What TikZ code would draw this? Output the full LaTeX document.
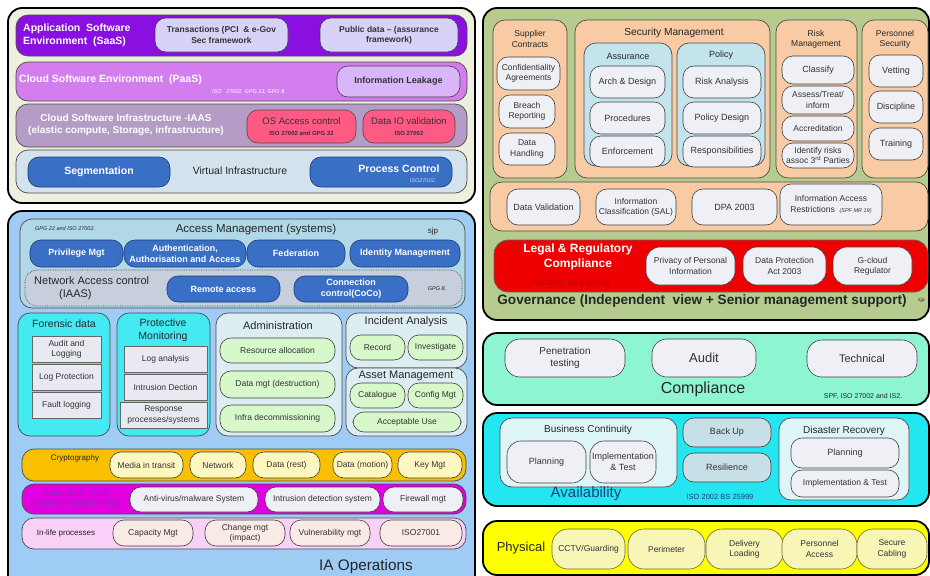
\documentclass[tikz,border=0pt]{standalone}
\usepackage{fontspec}
\setmainfont{Liberation Sans}

\definecolor{cream}{HTML}{EFEFE0}
\definecolor{saasBg}{HTML}{8A10E2}
\definecolor{saasPill}{HTML}{D9D2F7}
\definecolor{paasBg}{HTML}{D47DEE}
\definecolor{leakPill}{HTML}{D9B6F8}
\definecolor{iaasBg}{HTML}{B49CC6}
\definecolor{osPill}{HTML}{FF5A84}
\definecolor{virtBg}{HTML}{D3E2EC}
\definecolor{bluePill}{HTML}{3A6FC6}
\definecolor{opsBg}{HTML}{9FCCF5}
\definecolor{accBg}{HTML}{B0D8E6}
\definecolor{nacBg}{HTML}{C6CFDB}
\definecolor{cyanBox}{HTML}{44EAF2}
\definecolor{greyRect}{HTML}{E9E9F1}
\definecolor{paleBox}{HTML}{DDEEF3}
\definecolor{greenPill}{HTML}{D7F8CA}
\definecolor{cryptoBg}{HTML}{F8C000}
\definecolor{yellowPill}{HTML}{FFF7C2}
\definecolor{secBg}{HTML}{E000E0}
\definecolor{secTxt}{HTML}{8E2CB8}
\definecolor{greyPill}{HTML}{EEF0F5}
\definecolor{lifeBg}{HTML}{F8D0F8}
\definecolor{lifePill}{HTML}{F8EBE6}
\definecolor{govBg}{HTML}{B6CC8E}
\definecolor{peach}{HTML}{F9CBA4}
\definecolor{subBlue}{HTML}{C3E4EC}
\definecolor{legalBg}{HTML}{EE0000}
\definecolor{darkRed}{HTML}{A80000}
\definecolor{compBg}{HTML}{8EF5D2}
\definecolor{availBg}{HTML}{24E6F0}
\definecolor{availSub}{HTML}{DEF5F7}
\definecolor{backPill}{HTML}{C7DFE7}
\definecolor{navy}{HTML}{1E3C78}
\definecolor{physBg}{HTML}{FFFF00}
\definecolor{physPill}{HTML}{F8F6B6}
\definecolor{olive}{HTML}{6B6A30}

\newcommand{\fsz}[1]{\fontsize{#1}{\dimexpr#1pt*6/5\relax}\selectfont}
% box between two corners (x,y in pt, y downwards)
\def\getxy#1,#2\relax{\def\gx{#1}\def\gy{#2}}
\newcommand{\blk}[5][]{%
  \getxy#3\relax\let\xa\gx\let\ya\gy
  \getxy#4\relax
  \pgfmathsetmacro{\bw}{\gx-\xa}\pgfmathsetmacro{\bh}{\gy-\ya}%
  \node[#1, minimum width=\bw pt, minimum height=\bh pt] (#2)
    at ({(\xa+\gx)/2},{(\ya+\gy)/2}) {#5};}

\begin{document}
\begin{tikzpicture}[x=1pt,y=-1pt,
    fs/.style={font=\fsz{#1}},
    fb/.style={font=\fsz{#1}\bfseries},
    fi/.style={font=\fsz{#1}\itshape},
    panel/.style={draw=black, line width=1.8pt, rounded corners=14pt, inner sep=0pt, outer sep=0pt},
    band/.style={draw=black!70, line width=0.7pt, rounded corners=12pt, inner sep=0pt, outer sep=0pt},
    pill/.style={draw=black!75, line width=0.6pt, rounded corners=11pt, inner sep=0pt,
        outer sep=0pt, align=center, text=black!80, fs=9},
    rbox/.style={draw=black!60, line width=0.6pt, fill=greyRect, inner sep=0pt,
        outer sep=0pt, align=center, text=black!80, fs=8.5},
    bpill/.style={pill, fill=bluePill, draw=navy, text=white, fb=9},
    lbl/.style={inner sep=0pt, align=center, text=black!85}]

\clip (0,0) rectangle (930,576);
\fill[white] (0,0) rectangle (930,576);

% ---------- cloud layers ----------
\blk[panel, fill=cream]{cloudPanel}{8,8}{475,203}{}
\blk[band, fill=saasBg]{saasRow}{16,15}{467,56}{}
\node[lbl, fb=10.5, text=white, align=left, anchor=west] (saasLbl) at (23,35)
    {Application~~Software\\Environment~~(SaaS)};
\blk[pill, fill=saasPill, fb=8.5]{txPill}{155,18}{288,52}{Transactions (PCI~~\& e-Gov\\Sec framework}
\blk[pill, fill=saasPill, fb=8.5]{pubPill}{320,18}{458,52}{Public data -- (assurance\\framework)}

\blk[band, fill=paasBg]{paasRow}{16,62}{467,101}{}
\node[lbl, fb=10.5, text=white, anchor=west] (paasLbl) at (19,80) {Cloud Software Environment~~(PaaS)};
\node[lbl, fi=5.5, text=white, anchor=west] (paasIso) at (212,92) {ISO~~~27002, GPG 13, GPG 8};
\blk[pill, fill=leakPill, fb=9]{leakPill}{337,66}{460,97}{Information Leakage}

\blk[band, fill=iaasBg]{iaasRow}{16,104}{467,147}{}
\node[lbl, fb=10, text=white] (iaasLbl) at (126,125)
    {Cloud Software Infrastructure -IAAS\\(elastic compute, Storage, infrastructure)};
\blk[pill, fill=osPill, draw=black!70, fs=9.5]{osPill}{247,110}{356,143}{OS Access control\\{\fsz{6}\bfseries ISO 27002 and GPG 22}}
\blk[pill, fill=osPill, draw=black!70, fs=9.5]{dataIoPill}{363,110}{455,143}{Data IO validation\\{\fsz{6}\bfseries ISO 27002}}

\blk[band, fill=virtBg]{virtRow}{16,150}{467,193}{}
\blk[bpill, fb=10.5]{segPill}{28,157}{170,187}{Segmentation}
\node[lbl, fs=10.5] (virtLbl) at (240,171) {Virtual Infrastructure};
\blk[bpill]{procPill}{310,157}{452,187}{}
\node[lbl, fb=10.5, text=white] (procLbl) at (399,169) {Process Control};
\node[lbl, fi=5.5, text=white!80!blue] (procIso) at (423,181) {ISO27002.};

% ---------- IA operations ----------
\blk[panel, fill=opsBg]{opsPanel}{8,211}{475,592}{}
\blk[band, fill=accBg]{accBox}{20,219}{465,308}{}
\blk[band, fill=nacBg, densely dotted]{nacBox}{25,270}{462,306}{}
\node[lbl, fi=5.5, anchor=west] (accGpg) at (35,229) {GPG 22 and ISO 27002.};
\node[lbl, fs=11.5] (accLbl) at (256,230) {Access Management (systems)};
\node[lbl, fs=8] (accSjp) at (433,231) {sjp};
\blk[bpill]{privPill}{30,240}{123,267}{Privilege Mgt}
\blk[bpill]{authPill}{124,240}{246,267}{Authentication,\\Authorisation and Access}
\blk[bpill]{fedPill}{247,240}{345,267}{Federation}
\blk[bpill]{idPill}{350,240}{460,267}{Identity Management}
\node[lbl, fs=11, align=left, anchor=west] (nacLbl) at (34,288)
    {Network Access control\\\hspace{25pt}(IAAS)};
\blk[bpill]{remotePill}{167,276}{280,302}{Remote access}
\blk[bpill]{cocoPill}{294,276}{408,302}{Connection\\control(CoCo)}
\node[lbl, fi=5.5] (nacGpg) at (437,289) {GPG 8.};

\blk[band, fill=cyanBox]{forBox}{18,313}{110,436}{}
\node[lbl, fs=10.5] (forLbl) at (64,324) {Forensic data};
\blk[rbox]{auditRect}{32,336}{101,362}{Audit and\\Logging}
\blk[rbox]{logProtRect}{32,364}{101,390}{Log Protection}
\blk[rbox]{faultRect}{32,392}{101,418}{Fault logging}

\blk[band, fill=cyanBox]{pmBox}{117,313}{210,436}{}
\node[lbl, fs=10.5] (pmLbl) at (163,330) {Protective\\Monitoring};
\blk[rbox]{logAnRect}{124,346}{207,372}{Log analysis}
\blk[rbox]{intrRect}{124,374}{207,400}{Intrusion Dection}
\blk[rbox]{respRect}{120,402}{207,428}{Response\\processes/systems}

\blk[band, fill=paleBox]{adminBox}{216,313}{342,436}{}
\node[lbl, fs=11] (adminLbl) at (278,326) {Administration};
\blk[pill, fill=greenPill, fs=8.5]{resPill}{220,338}{335,363}{Resource allocation}
\blk[pill, fill=greenPill, fs=8.5]{dataMgtPill}{220,371}{335,398}{Data mgt (destruction)}
\blk[pill, fill=greenPill, fs=8.5]{infraPill}{220,405}{335,432}{Infra decommissioning}

\blk[band, fill=paleBox]{incBox}{346,313}{467,368}{}
\node[lbl, fs=11] (incLbl) at (406,322) {Incident Analysis};
\blk[pill, fill=greenPill, fs=8.5]{recPill}{350,335}{405,360}{Record}
\blk[pill, fill=greenPill, fs=8.5]{invPill}{408,335}{463,360}{Investigate}
\blk[band, fill=paleBox]{assetBox}{346,368}{467,436}{}
\node[lbl, fs=11] (assetLbl) at (406,376) {Asset Management};
\blk[pill, fill=greenPill, fs=8.5]{catPill}{350,383}{405,408}{Catalogue}
\blk[pill, fill=greenPill, fs=8.5]{cfgPill}{408,383}{463,408}{Config Mgt}
\blk[pill, fill=greenPill, fs=8.5]{aupPill}{353,412}{461,432}{Acceptable Use}

\blk[band, fill=cryptoBg]{cryptoRow}{22,449}{466,481}{}
\node[lbl, fs=8] (cryptoLbl) at (75,458) {Cryptography};
\blk[pill, fill=yellowPill, fs=8.5]{mediaPill}{110,452}{183,478}{Media in transit}
\blk[pill, fill=yellowPill, fs=8.5]{netPill}{190,452}{246,478}{Network}
\blk[pill, fill=yellowPill, fs=8.5]{restPill}{253,452}{320,478}{Data (rest)}
\blk[pill, fill=yellowPill, fs=8.5]{motionPill}{333,452}{392,478}{Data (motion)}
\blk[pill, fill=yellowPill, fs=8.5]{keyPill}{398,452}{462,478}{Key Mgt}

\blk[band, fill=secBg]{secRow}{22,484}{466,514}{}
\node[lbl, fs=8, text=secTxt] (secLbl) at (76,499) {SaaS. IaaS. PaaS\\Security subsystem mgt};
\blk[pill, fill=greyPill, fs=8.5]{avPill}{130,487}{258,512}{Anti-virus/malware System}
\blk[pill, fill=greyPill, fs=8.5]{idsPill}{265,487}{380,512}{Intrusion detection system}
\blk[pill, fill=greyPill, fs=8.5]{fwPill}{383,487}{463,512}{Firewall mgt}

\blk[band, fill=lifeBg]{lifeRow}{22,518}{466,549}{}
\node[lbl, fs=8] (lifeLbl) at (66,533) {In-life processes};
\blk[pill, fill=lifePill, fs=8.5]{capPill}{113,520}{193,546}{Capacity Mgt}
\blk[pill, fill=lifePill, fs=8.5]{chgPill}{205,520}{285,546}{Change mgt\\(impact)}
\blk[pill, fill=lifePill, fs=8.5]{vulPill}{290,520}{370,546}{Vulnerability mgt}
\blk[pill, fill=lifePill, fs=8.5]{isoPill}{380,520}{462,546}{ISO27001}
\node[lbl, fs=15.3] (opsLbl) at (366,567) {IA Operations};

% ---------- governance ----------
\blk[panel, fill=govBg]{govPanel}{483,8}{929,320}{}
\blk[band, fill=peach]{supBox}{493,20}{567,178}{}
\node[lbl, fs=8.5] (supLbl) at (530,39) {Supplier\\Contracts};
\blk[pill, fill=greyPill, fs=8.5]{confPill}{497,57}{560,90}{Confidentiality\\Agreements}
\blk[pill, fill=greyPill, fs=8.5]{breachPill}{499,95}{555,128}{Breach\\Reporting}
\blk[pill, fill=greyPill, fs=8.5]{handPill}{499,133}{555,165}{Data\\Handling}

\blk[band, fill=peach]{secMgtBox}{575,20}{770,178}{}
\node[lbl, fs=10.2] (secMgtLbl) at (674,33) {Security Management};
\blk[band, fill=subBlue]{assurBox}{584,43}{672,166}{}
\node[lbl, fs=9] (assurLbl) at (628,56) {Assurance};
\blk[pill, fill=greyPill]{archPill}{590,66}{665,98}{Arch \& Design}
\blk[pill, fill=greyPill]{procdPill}{590,102}{665,134}{Procedures}
\blk[pill, fill=greyPill]{enfPill}{590,136}{665,167}{Enforcement}
\blk[band, fill=subBlue]{policyBox}{677,43}{765,166}{}
\node[lbl, fs=9] (policyLbl) at (721,55) {Policy};
\blk[pill, fill=greyPill]{riskAnPill}{683,66}{761,98}{Risk Analysis}
\blk[pill, fill=greyPill]{polDesPill}{683,102}{761,134}{Policy Design}
\blk[pill, fill=greyPill]{respPill}{683,136}{761,167}{Responsibilities}

\blk[band, fill=peach]{riskBox}{776,20}{857,178}{}
\node[lbl, fs=8.5] (riskLbl) at (816,39) {Risk\\Management};
\blk[pill, fill=greyPill]{classPill}{782,56}{854,84}{Classify}
\blk[pill, fill=greyPill, fs=8.5]{assessPill}{782,86}{854,114}{Assess/Treat/\\inform}
\blk[pill, fill=greyPill, fs=8.5]{accredPill}{782,116}{854,141}{Accreditation}
\blk[pill, fill=greyPill, fs=8.5]{identPill}{782,143}{854,168}{Identify risks\\assoc 3\textsuperscript{rd} Parties}

\blk[band, fill=peach]{persBox}{862,20}{928,178}{}
\node[lbl, fs=8.5] (persLbl) at (895,39) {Personnel\\Security};
\blk[pill, fill=greyPill]{vetPill}{869,55}{923,87}{Vetting}
\blk[pill, fill=greyPill]{discPill}{869,91}{923,123}{Discipline}
\blk[pill, fill=greyPill]{trainPill}{869,128}{923,160}{Training}

\blk[band, fill=peach]{dataRow}{490,182}{928,231}{}
\blk[pill, fill=greyPill]{dvPill}{507,189}{580,225}{Data Validation}
\blk[pill, fill=greyPill, fs=8.5]{icPill}{596,189}{676,225}{Information\\Classification (SAL)}
\blk[pill, fill=greyPill]{dpaPill}{692,189}{777,225}{DPA 2003}
\blk[pill, fill=greyPill, fs=8.5]{iarPill}{780,184}{882,225}{Information Access\\Restrictions~~{\fsz{5.5}\itshape(SPF MR 19)}}

\blk[band, fill=legalBg, draw=black!60, rounded corners=14pt]{legalRow}{494,240}{928,292}{}
\node[lbl, fb=12, text=white] (legalLbl) at (578,257) {Legal \& Regulatory\\Compliance};
\node[lbl, fs=6.5, text=darkRed] (legalIso) at (571,283) {ISO 27002. IS2 \& GPG 13};
\blk[pill, fill=greyPill, fs=8.5, rounded corners=14pt]{privPerPill}{646,247}{735,285}{Privacy of Personal\\Information}
\blk[pill, fill=greyPill, fs=8.5, rounded corners=14pt]{dpActPill}{743,247}{826,285}{Data Protection\\Act 2003}
\blk[pill, fill=greyPill, fs=8.5, rounded corners=14pt]{gcloudPill}{833,247}{912,285}{G-cloud\\Regulator}
\node[lbl, fb=13.6] (govLbl) at (702,301) {Governance (Independent~~view + Senior management support)};
\node[lbl, fs=5, anchor=west] (govSjp) at (918,300) {sjp};

% ---------- compliance ----------
\blk[panel, fill=compBg]{compPanel}{483,333}{929,405}{}
\blk[pill, fill=greyPill, fs=10, rounded corners=15pt]{penPill}{505,339}{625,377}{Penetration\\testing}
\blk[pill, fill=greyPill, fs=13, rounded corners=15pt]{auditPill}{652,339}{756,377}{Audit}
\blk[pill, fill=greyPill, fs=11, rounded corners=15pt]{techPill}{807,340}{917,377}{Technical}
\node[lbl, fs=16] (compLbl) at (703,389) {Compliance};
\node[lbl, fs=7] (compIso) at (863,396) {SPF, ISO 27002 and IS2.};

% ---------- availability ----------
\blk[panel, fill=availBg]{availPanel}{483,413}{929,506}{}
\blk[band, fill=availSub]{bcBox}{500,418}{677,487}{}
\node[lbl, fs=10] (bcLbl) at (588,430) {Business Continuity};
\blk[pill, fill=greyPill, rounded corners=14pt]{bcPlanPill}{507,441}{586,483}{Planning}
\blk[pill, fill=greyPill, rounded corners=14pt]{bcImplPill}{590,441}{656,483}{Implementation\\\& Test}
\blk[pill, fill=backPill]{backPill}{683,418}{771,447}{Back Up}
\blk[pill, fill=backPill]{resilPill}{683,453}{771,482}{Resilience}
\blk[band, fill=availSub]{drBox}{779,418}{909,500}{}
\node[lbl, fs=10] (drLbl) at (844,431) {Disaster Recovery};
\blk[pill, fill=greyPill]{drPlanPill}{791,438}{899,468}{Planning}
\blk[pill, fill=greyPill, fs=8.5]{drImplPill}{791,470}{899,497}{Implementation \& Test}
\node[lbl, fs=15, text=navy] (availLbl) at (586,494) {Availability};
\node[lbl, fs=7.5, text=navy] (availIso) at (720,497) {ISO 2002 BS 25999};

% ---------- physical ----------
\blk[panel, fill=physBg]{physPanel}{483,521}{929,575}{}
\node[lbl, fs=13] (physLbl) at (521,548) {Physical};
\blk[pill, fill=physPill, draw=olive, fs=8.5, rounded corners=16pt]{cctvPill}{552,529}{625,569}{CCTV/Guarding}
\blk[pill, fill=physPill, draw=olive, fs=8.5, rounded corners=16pt]{perimPill}{628,529}{705,569}{Perimeter}
\blk[pill, fill=physPill, draw=olive, fs=8.5, rounded corners=16pt]{delivPill}{706,529}{783,569}{Delivery\\Loading}
\blk[pill, fill=physPill, draw=olive, fs=8.5, rounded corners=16pt]{persAccPill}{782,529}{857,569}{Personnel\\Access}
\blk[pill, fill=physPill, draw=olive, fs=8.5, rounded corners=16pt]{cablePill}{857,529}{927,569}{Secure\\Cabling}
\end{tikzpicture}
\end{document}
